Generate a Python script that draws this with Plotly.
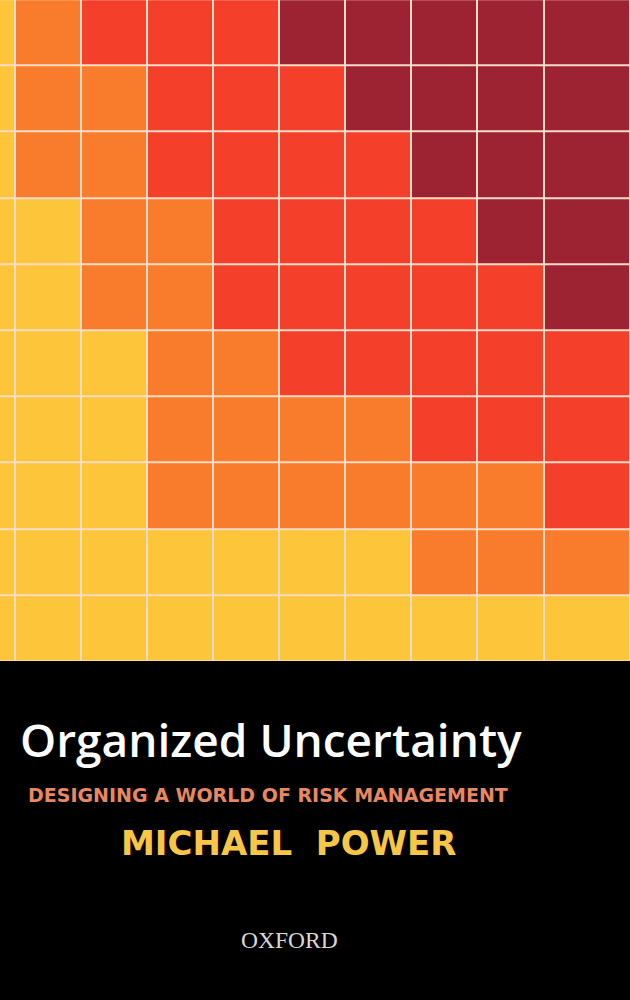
import plotly.graph_objects as go

# --- data: colour level of each tile, top row first (0 yellow .. 3 dark red) ---
ROW_0 = [0, 1, 2, 2, 2, 3, 3, 3, 3, 3]
ROW_1 = [0, 1, 1, 2, 2, 2, 3, 3, 3, 3]
ROW_2 = [0, 1, 1, 2, 2, 2, 2, 3, 3, 3]
ROW_3 = [0, 0, 1, 1, 2, 2, 2, 2, 3, 3]
ROW_4 = [0, 0, 1, 1, 2, 2, 2, 2, 2, 3]
ROW_5 = [0, 0, 0, 1, 1, 2, 2, 2, 2, 2]
ROW_6 = [0, 0, 0, 1, 1, 1, 1, 2, 2, 2]
ROW_7 = [0, 0, 0, 1, 1, 1, 1, 1, 1, 2]
ROW_8 = [0, 0, 0, 0, 0, 0, 0, 1, 1, 1]
ROW_9 = [0, 0, 0, 0, 0, 0, 0, 0, 0, 0]
LEVELS = [ROW_0, ROW_1, ROW_2, ROW_3, ROW_4, ROW_5, ROW_6, ROW_7, ROW_8, ROW_9]

TITLE = "Organized Uncertainty"
SUBTITLE = "DESIGNING A WORLD OF RISK MANAGEMENT"
AUTHOR = "MICHAEL POWER"
PUBLISHER = "OXFORD"

# --- styling ---
YELLOW, ORANGE, RED, DARK = "#FDC53A", "#F87C2C", "#F43F2B", "#9D2232"
scale = [[0.0, YELLOW], [1/6, YELLOW], [1/6, ORANGE], [0.5, ORANGE],
         [0.5, RED], [5/6, RED], [5/6, DARK], [1.0, DARK]]

n_cols = len(LEVELS[0])
n_rows = len(LEVELS)
# last column on the cover is a bit wider than the rest
x_edges = list(range(n_cols)) + [n_cols + 0.31]
y_edges = list(range(n_rows + 1))

fig = go.Figure(go.Heatmap(
    z=LEVELS, x=x_edges, y=y_edges,
    zmin=0, zmax=3, colorscale=scale, showscale=False,
    xgap=2, ygap=2, hoverinfo="skip",
))

fig.update_layout(
    width=630, height=1000,
    margin=dict(l=0, r=0, t=0, b=0),
    paper_bgcolor="black",
    plot_bgcolor="#FBDCC6",
    showlegend=False,
    xaxis=dict(range=[0.773, n_cols + 0.31], visible=False, fixedrange=True),
    yaxis=dict(range=[n_rows - 0.005, 0.012], visible=False,
               domain=[0.339, 1.0], fixedrange=True),
)

# --- cover text ---
fig.add_annotation(text=TITLE, x=0.43, y=0.261, xref="paper", yref="paper",
                   showarrow=False, xanchor="center", yanchor="middle",
                   font=dict(family="Open Sans", size=46, color="white", weight=600))
fig.add_annotation(text=SUBTITLE, x=0.426, y=0.205, xref="paper", yref="paper",
                   showarrow=False, xanchor="center", yanchor="middle",
                   font=dict(family="DejaVu Sans", size=19, color="#E9875E", weight=700))
fig.add_annotation(text=AUTHOR.replace(" ", "&nbsp;&nbsp;"), x=0.459, y=0.157,
                   xref="paper", yref="paper",
                   showarrow=False, xanchor="center", yanchor="middle",
                   font=dict(family="DejaVu Sans", size=34, color="#F8C646", weight=700))
fig.add_annotation(text=PUBLISHER, x=0.46, y=0.06, xref="paper", yref="paper",
                   showarrow=False, xanchor="center", yanchor="middle",
                   font=dict(family="Liberation Serif", size=23.5, color="#D8D8D8"))

fig.write_html("out.html", config={"displayModeBar": False},
               post_script="document.body.style.margin='0';")
